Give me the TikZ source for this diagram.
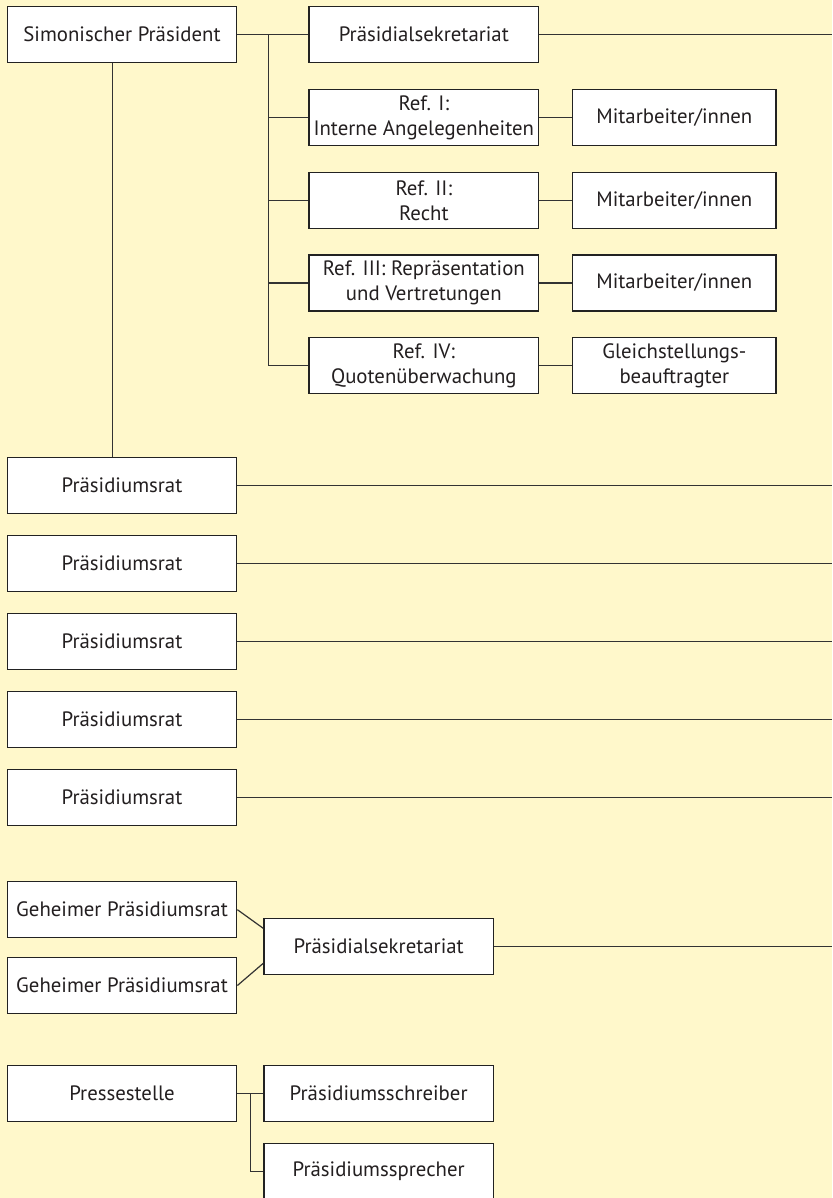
\documentclass[tikz,border=0pt]{standalone}
\usepackage{fontspec}
\setmainfont{PT Sans}
\definecolor{bg}{HTML}{FFF8CB}
\definecolor{ln}{HTML}{333333}
\definecolor{bd}{HTML}{222222}
\definecolor{tx}{HTML}{231F20}
\begin{document}
\begin{tikzpicture}[x=1pt,y=-1pt,
  box/.style={draw=bd, line width=1.4pt, fill=white, minimum width=229.4pt, minimum height=56pt,
    inner sep=0pt, align=center, text=tx, font=\fontsize{20.8}{25}\selectfont},
  sbox/.style={box, minimum width=203.3pt},
  conn/.style={draw=ln, line width=1.2pt}]
\fill[bg] (0,0) rectangle (832,1198);
\useasboundingbox (0,0) rectangle (832,1198);
\coordinate (E) at (832,0);
\coordinate (bus) at (268.3,0);
\coordinate (pb) at (250.7,0);
% top section
\node[box] (SP) at (122,34.7) {Simonischer Präsident};
\node[box] (P1) at (423.8,34.7) {Präsidialsekretariat};
\node[box] (R1) at (423.8,117.5) {Ref. I:\\Interne Angelegenheiten};
\node[box] (R2) at (423.8,200.3) {Ref. II:\\Recht};
\node[box] (R3) at (423.8,283) {Ref. III: Repräsentation\\und Vertretungen};
\node[box] (R4) at (423.8,365.5) {Ref. IV:\\Quotenüberwachung};
\node[sbox] (M1) at (674.35,117.5) {Mitarbeiter/innen};
\node[sbox] (M2) at (674.35,200.3) {Mitarbeiter/innen};
\node[sbox] (M3) at (674.35,283) {Mitarbeiter/innen};
\node[sbox] (G4) at (674.35,365.5) {Gleichstellungs-\\beauftragter};
% Präsidiumsrat
\node[box] (PR1) at (122,485.7) {Präsidiumsrat};
\node[box] (PR2) at (122,563.7) {Präsidiumsrat};
\node[box] (PR3) at (122,641.7) {Präsidiumsrat};
\node[box] (PR4) at (122,719.3) {Präsidiumsrat};
\node[box] (PR5) at (122,797.3) {Präsidiumsrat};
% Geheimer
\node[box] (GP1) at (122,909.7) {Geheimer Präsidiumsrat};
\node[box] (GP2) at (122,985.5) {Geheimer Präsidiumsrat};
\node[box] (PS2) at (378.65,946.3) {Präsidialsekretariat};
% Presse
\node[box] (PRS) at (122,1093.6) {Pressestelle};
\node[box] (SCH) at (378.65,1093.6) {Präsidiumsschreiber};
\node[box] (SPR) at (378.65,1171.3) {Präsidiumssprecher};
% connectors
\draw[conn] (SP.east) -- (P1.west);
\draw[conn] (P1.east) -- (P1.east -| E);
\draw[conn] (bus |- SP.east) -- (bus |- R4.west);
\foreach \n in {R1,R2,R3,R4} \draw[conn] (bus |- \n.west) -- (\n.west);
\foreach \n/\m in {R1/M1,R2/M2,R3/M3,R4/G4} \draw[conn] (\n.east) -- (\m.west);
\draw[conn] ([xshift=-9.7pt]SP.south) -- ([xshift=-9.7pt]PR1.north);
\foreach \n in {PR1,PR2,PR3,PR4,PR5} \draw[conn] (\n.east) -- (\n.east -| E);
\draw[conn] (GP1.east) -- ([yshift=18pt]PS2.west);
\draw[conn] (GP2.east) -- ([yshift=-17pt]PS2.west);
\draw[conn] (PS2.east) -- (PS2.east -| E);
\draw[conn] (PRS.east) -- (SCH.west);
\draw[conn] (pb |- SCH.west) |- (SPR.west);
\end{tikzpicture}
\end{document}
